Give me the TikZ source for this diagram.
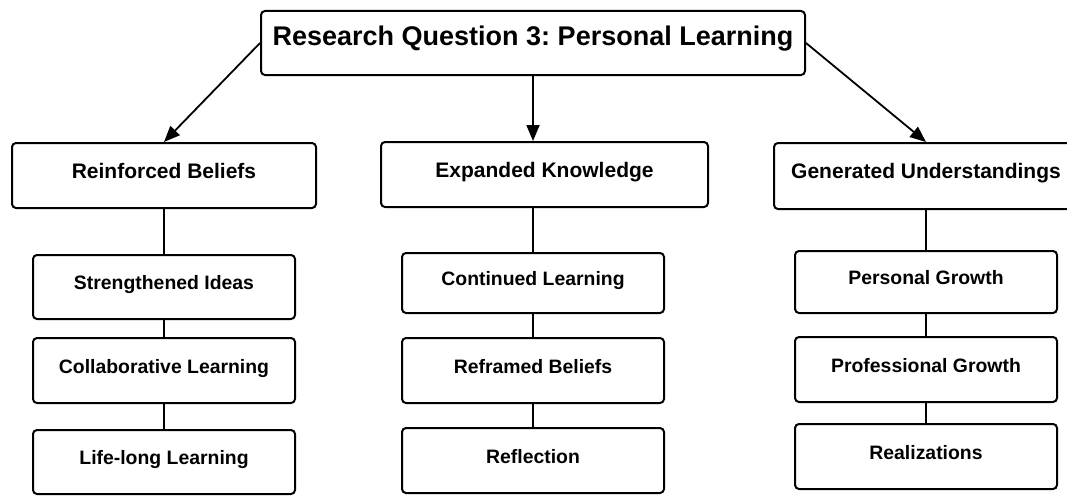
\documentclass[tikz,border=0pt]{standalone}
\usepackage{fontspec}
\setmainfont{Liberation Sans}
\usetikzlibrary{arrows.meta}
\frenchspacing

\tikzset{
  box/.style={draw=black, line width=2pt, rounded corners=4pt, fill=white,
    inner sep=0pt, align=center, font=\bfseries,
    text height=0.72em, text depth=0.21em},
  titlebox/.style={box, font=\fontsize{27}{32}\selectfont\bfseries},
  themebox/.style={box, font=\fontsize{21}{25}\selectfont\bfseries},
  subbox/.style={box, font=\fontsize{19.4}{23}\selectfont\bfseries,
    minimum width=262pt},
  arrowline/.style={line width=1.8pt, -{Triangle[length=16pt,width=13pt]}},
  linkline/.style={line width=1.8pt}
}

\begin{document}
\begin{tikzpicture}[x=1pt, y=-1pt]
\useasboundingbox (0,0) rectangle (1067,495);
\clip (0,0) rectangle (1067,495);
\fill[white] (0,0) rectangle (1067,495);

% root
\node[titlebox, minimum width=544pt, minimum height=64pt] (root) at (533,43)
  {Research Question 3:\ Personal Learning};

% themes
\node[themebox, minimum width=304pt, minimum height=65pt] (rb) at (164,175.5)
  {Reinforced Beliefs};
\node[themebox, minimum width=327pt, minimum height=65pt] (ek) at (544.5,174.5)
  {Expanded Knowledge};
\node[themebox, minimum width=304pt, minimum height=66pt] (gu) at (926,176)
  {Generated Understandings};

% sub-themes: Reinforced Beliefs
\node[subbox, minimum height=64pt] (s1) at (164,287) {Strengthened Ideas};
\node[subbox, minimum height=65pt] (s2) at (164,370.5) {Collaborative Learning};
\node[subbox, minimum height=64pt] (s3) at (164,462) {Life-long Learning};

% sub-themes: Expanded Knowledge
\node[subbox, minimum height=60pt] (c1) at (533,283) {Continued Learning};
\node[subbox, minimum height=65pt] (c2) at (533,370.5) {Reframed Beliefs};
\node[subbox, minimum height=65pt] (c3) at (533,460.5) {Reflection};

% sub-themes: Generated Understandings
\node[subbox, minimum height=62pt] (p1) at (926,282) {Personal Growth};
\node[subbox, minimum height=65pt] (p2) at (926,369.5) {Professional Growth};
\node[subbox, minimum height=65pt] (p3) at (926,456.5) {Realizations};

% arrows from the root
\draw[arrowline] (root.west) -- (rb.north);
\draw[arrowline] (root.south) -- (root.south |- ek.north);
\draw[arrowline] (root.east) -- (gu.north);

% vertical links
\draw[linkline] (rb.south) -- (s1.north);
\draw[linkline] (s1.south) -- (s2.north);
\draw[linkline] (s2.south) -- (s3.north);

\draw[linkline] (c1.north |- ek.south) -- (c1.north);
\draw[linkline] (c1.south) -- (c2.north);
\draw[linkline] (c2.south) -- (c3.north);

\draw[linkline] (gu.south) -- (p1.north);
\draw[linkline] (p1.south) -- (p2.north);
\draw[linkline] (p2.south) -- (p3.north);
\end{tikzpicture}
\end{document}
